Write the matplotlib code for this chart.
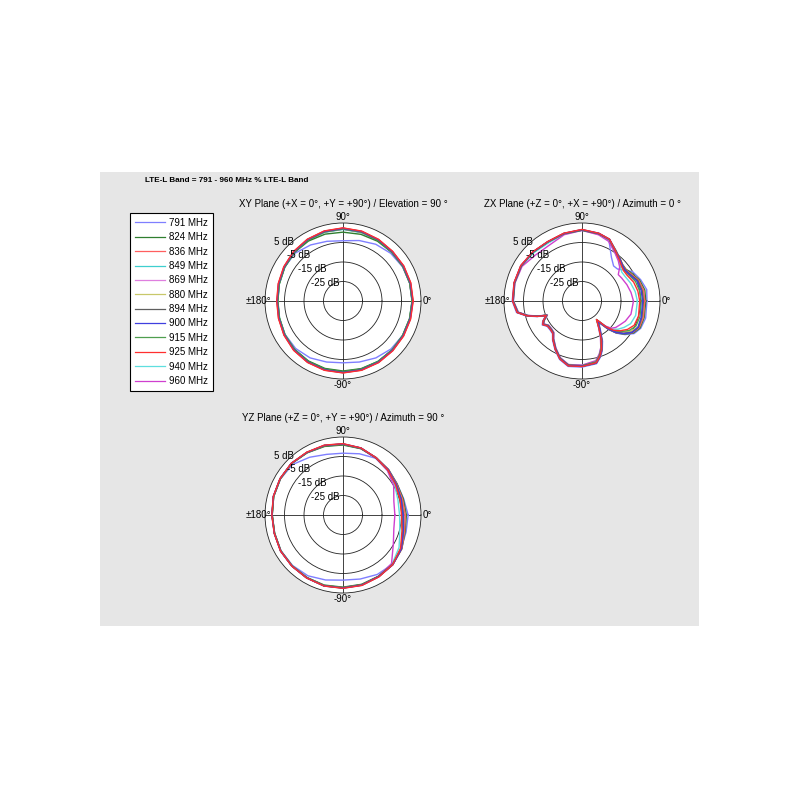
#!/usr/bin/env python

import numpy as np
import matplotlib
matplotlib.use("agg")
import matplotlib.pyplot as plt
from matplotlib.patches import Rectangle
from matplotlib.lines import Line2D

plt.rcParams["font.family"] = ["Liberation Sans", "DejaVu Sans"]

FREQS = [791, 824, 836, 849, 869, 880, 894, 900, 915, 925, 940, 960]
COLORS = ["#7f7fff", "#2f7f2f", "#ff5f5f", "#3fcfcf", "#df7fdf", "#c8c86a",
          "#5f5f5f", "#3f3fdf", "#4f9f4f", "#ff2f2f", "#5fdfdf", "#cf3fcf"]
# dark traces sit on top in the original export
ZORDERS = [2, 2.5, 2.5, 2, 2, 2, 3, 3, 2.5, 3, 2, 2]

RINGS = [5, -5, -15, -25]

# XY plane, elevation = 90 deg (gain in dB)
xy_ang = [0, 15, 30, 45, 60, 75, 90, 105, 120, 135, 150, 165,
          180, 195, 210, 225, 240, 255, 270, 285, 300, 315, 330, 345]
xy_db = [
    [0.6, 0.5, 0.2, -0.4, -1.4, -2.9, -4.1, -3.3, -1.8, -0.3, -0.4, -1.0, -1.4, -1.2, -0.7, -0.6, -1.3, -2.6, -3.3, -2.6, -1.3, -0.2, 0.3, 0.5],  # 791
    [0.5, 0.5, 0.5, 0.3, 0.4, 0.4, 0.3, 0.5, 0.5, 0.2, -0.4, -1.1, -1.5, -1.2, -0.5, 0.1, 0.5, 0.8, 0.9, 0.9, 0.8, 0.6, 0.4, 0.4],  # 824
    [0.9, 0.9, 0.9, 0.9, 1.4, 2.0, 2.4, 2.1, 1.5, 0.8, 0.0, -0.7, -1.1, -0.8, -0.1, 0.7, 1.3, 1.7, 1.8, 1.7, 1.4, 1.0, 0.8, 0.8],  # 836
    [0.4, 0.4, 0.4, 0.4, 0.8, 1.3, 1.7, 1.5, 0.9, 0.3, -0.5, -1.2, -1.6, -1.3, -0.6, 0.2, 0.7, 1.1, 1.2, 1.1, 0.8, 0.5, 0.3, 0.3],  # 849
    [0.6, 0.6, 0.6, 0.6, 1.1, 1.7, 2.1, 1.8, 1.2, 0.5, -0.3, -1.0, -1.4, -1.1, -0.4, 0.4, 1.0, 1.4, 1.5, 1.4, 1.1, 0.7, 0.5, 0.5],  # 869
    [0.5, 0.5, 0.5, 0.5, 1.0, 1.6, 2.0, 1.7, 1.1, 0.4, -0.4, -1.1, -1.5, -1.2, -0.5, 0.3, 0.9, 1.3, 1.4, 1.3, 1.0, 0.6, 0.4, 0.4],  # 880
    [0.7, 0.7, 0.7, 0.7, 1.2, 1.8, 2.2, 1.9, 1.3, 0.6, -0.2, -0.9, -1.3, -1.0, -0.3, 0.5, 1.1, 1.5, 1.6, 1.5, 1.2, 0.8, 0.6, 0.6],  # 894
    [0.8, 0.8, 0.8, 0.8, 1.3, 1.9, 2.3, 2.0, 1.4, 0.7, -0.1, -0.8, -1.2, -0.9, -0.2, 0.6, 1.2, 1.6, 1.7, 1.6, 1.3, 0.9, 0.7, 0.7],  # 900
    [0.4, 0.4, 0.4, 0.4, 0.9, 1.5, 1.9, 1.6, 1.0, 0.3, -0.5, -1.2, -1.6, -1.3, -0.6, 0.2, 0.8, 1.2, 1.3, 1.2, 0.9, 0.5, 0.3, 0.3],  # 915
    [1.0, 1.0, 1.0, 1.0, 1.5, 2.1, 2.5, 2.2, 1.6, 0.9, 0.1, -0.6, -1.0, -0.7, 0.0, 0.8, 1.4, 1.8, 1.9, 1.8, 1.5, 1.1, 0.9, 0.9],  # 925
    [0.5, 0.6, 0.6, 0.5, 1.0, 1.6, 2.0, 1.7, 1.1, 0.4, -0.4, -1.1, -1.4, -1.1, -0.5, 0.3, 0.9, 1.3, 1.4, 1.3, 1.0, 0.6, 0.4, 0.5],  # 940
    [0.5, 0.4, 0.4, 0.4, 0.9, 1.5, 1.9, 1.7, 1.1, 0.4, -0.3, -1.0, -1.4, -1.1, -0.4, 0.3, 0.8, 1.2, 1.3, 1.2, 1.0, 0.6, 0.4, 0.4],  # 960
]

# ZX plane, azimuth = 0 deg
zx_ang = [0, 10, 20, 30, 36, 42, 48, 56, 66, 76,
          90, 105, 120, 135, 150, 165, 180,
          190, 195, 199, 202, 207, 211, 216, 222, 228, 233, 241, 249, 258, 270,
          283, 288, 292, 297, 302,
          308, 313, 317, 322, 328, 335, 345]
zx_db = [
    [-1.7, -1.3, -3.0, -5.0, -8.0, -10.5, -10.8, -8.0, -1.0, 0.3,
     1.2, 0.6, 0.0, 0.6, 1.2, 1.1, 0.8,
     -0.9, -5.4, -10.4, -14.9, -12.4, -11.2, -12.9, -12.9, -12.4, -9.9, -6.4, -2.9, -0.7, -1.1,
     -2.0, -4.6, -7.3, -11.8, -17.0,
     -21.0, -15.0, -10.8, -7.0, -3.5, -1.8, -1.2],  # 791
    [-2.3, -2.3, -3.6, -6.0, -7.2, -7.0, -5.8, -3.8, -0.4, 0.6,
     1.3, 0.8, 0.1, 0.5, 1.0, 0.9, 0.4,
     -1.3, -5.8, -10.8, -15.3, -12.8, -11.6, -13.3, -13.3, -12.8, -10.3, -6.8, -3.3, -1.1, -1.5,
     -2.3, -5.0, -7.8, -12.4, -17.5,
     -21.5, -15.3, -11.0, -7.4, -4.0, -2.2, -2.0],  # 824
    [-2.8, -2.9, -4.0, -6.5, -7.5, -7.1, -5.9, -4.0, -0.4, 0.7,
     1.6, 0.9, 0.1, 0.6, 1.2, 1.0, 0.5,
     -1.4, -5.9, -10.9, -15.4, -12.9, -11.7, -13.4, -13.4, -12.9, -10.4, -6.9, -3.4, -1.2, -1.6,
     -2.4, -5.1, -7.9, -12.6, -17.8,
     -22.0, -15.6, -11.3, -7.8, -4.4, -2.6, -2.4],  # 836
    [-3.1, -3.3, -4.3, -7.0, -8.0, -7.6, -6.3, -4.3, -0.6, 0.5,
     1.4, 0.7, -0.1, 0.4, 1.0, 0.8, 0.3,
     -1.6, -6.1, -11.1, -15.6, -13.1, -11.9, -13.6, -13.6, -13.1, -10.6, -7.1, -3.6, -1.4, -1.8,
     -2.6, -5.3, -8.2, -12.9, -18.0,
     -22.3, -16.0, -11.7, -8.3, -5.0, -2.9, -2.8],  # 849
    [-3.3, -3.5, -4.6, -7.4, -8.3, -8.0, -6.6, -4.6, -0.8, 0.4,
     1.4, 0.6, -0.4, 0.2, 0.9, 0.8, 0.3,
     -1.7, -6.2, -11.2, -15.7, -13.2, -12.0, -13.7, -13.7, -13.2, -10.7, -7.2, -3.7, -1.5, -1.9,
     -2.8, -5.6, -8.5, -13.2, -18.2,
     -22.5, -16.0, -12.0, -8.8, -5.5, -3.1, -3.0],  # 869
    [-3.4, -3.6, -4.8, -7.6, -8.5, -8.2, -6.8, -4.7, -0.8, 0.4,
     1.4, 0.7, -0.1, 0.4, 1.0, 0.8, 0.3,
     -1.6, -6.1, -11.1, -15.6, -13.1, -11.9, -13.6, -13.6, -13.1, -10.6, -7.1, -3.6, -1.4, -1.8,
     -2.8, -5.6, -8.5, -13.3, -18.3,
     -22.5, -16.2, -12.2, -9.0, -5.8, -3.3, -3.1],  # 880
    [-3.5, -3.7, -4.5, -7.0, -7.8, -7.2, -6.0, -4.2, -0.5, 0.6,
     1.5, 0.8, 0.0, 0.5, 1.1, 0.9, 0.4,
     -1.5, -6.0, -11.0, -15.5, -13.0, -11.8, -13.5, -13.5, -13.0, -10.5, -7.0, -3.5, -1.3, -1.7,
     -2.6, -5.4, -8.3, -13.0, -18.0,
     -22.5, -16.0, -11.6, -8.0, -4.8, -3.0, -3.2],  # 894
    [-3.9, -4.2, -5.0, -7.2, -7.9, -7.3, -6.0, -4.1, -0.3, 0.8,
     1.6, 0.9, 0.1, 0.6, 1.2, 1.0, 0.5,
     -1.3, -5.8, -10.8, -15.3, -12.8, -11.6, -13.3, -13.3, -12.8, -10.3, -6.8, -3.3, -1.1, -1.5,
     -2.3, -5.1, -8.0, -12.7, -17.6,
     -22.0, -15.8, -11.4, -7.8, -4.6, -3.3, -3.5],  # 900
    [-4.6, -5.0, -5.8, -7.6, -8.2, -7.6, -6.3, -4.3, -0.5, 0.6,
     1.4, 0.7, -0.1, 0.4, 1.0, 0.8, 0.3,
     -1.6, -6.1, -11.1, -15.6, -13.1, -11.9, -13.6, -13.6, -13.1, -10.6, -7.1, -3.6, -1.4, -1.8,
     -3.0, -5.9, -8.8, -13.6, -18.4,
     -22.8, -16.5, -12.5, -9.5, -6.5, -4.5, -4.2],  # 915
    [-5.4, -5.9, -6.8, -8.4, -8.6, -7.8, -6.4, -4.2, -0.3, 0.8,
     1.7, 1.0, 0.2, 0.7, 1.3, 1.1, 0.6,
     -1.2, -5.7, -10.7, -15.2, -12.7, -11.5, -13.2, -13.2, -12.7, -10.2, -6.7, -3.2, -1.0, -1.4,
     -2.5, -5.3, -8.4, -13.4, -18.6,
     -23.0, -16.8, -13.0, -10.2, -7.5, -5.5, -5.0],  # 925
    [-6.6, -7.3, -8.4, -9.6, -9.8, -8.6, -6.9, -4.6, -0.8, 0.4,
     1.3, 0.5, -0.6, 0.0, 0.8, 0.7, 0.2,
     -1.8, -6.3, -11.3, -15.8, -13.3, -12.1, -13.8, -13.8, -13.3, -10.8, -7.3, -3.8, -1.6, -2.0,
     -3.3, -6.2, -9.1, -13.9, -18.8,
     -23.0, -17.2, -13.8, -11.5, -9.5, -7.5, -6.5],  # 940
    [-8.6, -9.5, -10.5, -11.5, -12.0, -9.0, -7.2, -5.0, -1.5, 0.0,
     1.2, 0.2, -1.8, -1.5, 0.5, 0.6, 0.2,
     -1.9, -6.4, -11.4, -15.9, -13.4, -12.2, -13.9, -13.9, -13.4, -10.9, -7.4, -3.9, -1.7, -2.1,
     -3.6, -6.4, -9.3, -14.2, -19.0,
     -22.5, -17.5, -14.5, -13.0, -12.0, -10.5, -9.0],  # 960
]

# YZ plane, azimuth = 90 deg
yz_ang = xy_ang
yz_db = [
    [-1.6, -2.8, -3.0, -2.0, -1.4, -2.5, -3.3, -2.8, -0.8, 1.6, 2.0, 1.8, 1.3, 1.3, 1.7, 1.6, 1.0, -0.5, -1.6, -1.0, 0.2, 0.8, -0.5, -1.5],  # 791
    [-2.5, -3.0, -3.0, -2.0, -1.0, 0.2, 0.9, 1.4, 1.8, 2.3, 2.1, 1.8, 1.3, 1.3, 1.8, 1.9, 2.0, 2.2, 2.0, 1.8, 1.3, 1.0, -0.2, -2.0],  # 824
    [-3.0, -3.4, -3.2, -2.1, -1.0, 0.5, 1.3, 1.8, 2.0, 2.4, 2.2, 1.9, 1.4, 1.4, 1.9, 2.0, 2.2, 2.5, 2.3, 2.1, 1.5, 1.1, -0.2, -2.3],  # 836
    [-3.3, -3.6, -3.3, -2.2, -1.1, 0.4, 1.1, 1.6, 1.9, 2.3, 2.1, 1.8, 1.3, 1.3, 1.8, 1.9, 2.1, 2.4, 2.2, 2.0, 1.4, 1.0, -0.3, -2.5],  # 849
    [-3.6, -3.8, -3.4, -2.2, -1.1, 0.5, 1.3, 1.8, 2.0, 2.4, 2.2, 1.9, 1.4, 1.4, 1.9, 2.0, 2.2, 2.5, 2.3, 2.1, 1.5, 1.0, -0.4, -2.7],  # 869
    [-3.8, -3.9, -3.5, -2.3, -1.2, 0.4, 1.3, 1.8, 2.0, 2.3, 2.1, 1.8, 1.3, 1.3, 1.8, 1.9, 2.1, 2.5, 2.3, 2.1, 1.4, 0.9, -0.5, -2.8],  # 880
    [-4.0, -4.0, -3.5, -2.3, -1.2, 0.5, 1.4, 1.9, 2.0, 2.4, 2.2, 1.9, 1.4, 1.4, 1.9, 2.0, 2.2, 2.6, 2.4, 2.2, 1.5, 1.0, -0.4, -2.9],  # 894
    [-4.2, -4.1, -3.5, -2.2, -1.1, 0.6, 1.5, 2.0, 2.1, 2.5, 2.3, 2.0, 1.5, 1.5, 2.0, 2.1, 2.3, 2.7, 2.5, 2.3, 1.6, 1.1, -0.4, -3.0],  # 900
    [-4.6, -4.4, -3.7, -2.4, -1.2, 0.5, 1.4, 1.9, 2.0, 2.4, 2.2, 1.9, 1.4, 1.4, 1.9, 2.0, 2.2, 2.6, 2.4, 2.2, 1.5, 0.9, -0.7, -3.3],  # 915
    [-5.0, -4.7, -3.9, -2.4, -1.1, 0.6, 1.6, 2.1, 2.2, 2.5, 2.3, 2.0, 1.5, 1.5, 2.0, 2.1, 2.3, 2.7, 2.6, 2.4, 1.7, 1.0, -0.9, -3.7],  # 925
    [-6.0, -5.8, -4.4, -2.6, -1.3, 0.4, 1.3, 1.8, 2.0, 2.4, 2.2, 1.9, 1.4, 1.4, 1.9, 2.0, 2.2, 2.5, 2.3, 2.1, 1.4, 0.6, -1.8, -4.8],  # 940
    [-8.4, -8.0, -5.0, -2.8, -1.4, 0.3, 1.2, 1.8, 2.0, 2.4, 2.2, 1.9, 1.4, 1.4, 1.9, 2.0, 2.2, 2.5, 2.3, 2.0, 1.3, 0.2, -5.2, -8.0],  # 960
]


def px(x, y, w=0, h=0):
    "Pixel box (top-left origin) to figure fraction"
    return [x / 800.0, 1.0 - (y + h) / 800.0, w / 800.0, h / 800.0]


def polar_panel(fig, cx, cy, title, ang, rows):
    rad = 78
    ax = fig.add_axes(px(cx - rad, cy - rad, 2 * rad, 2 * rad), projection="polar")
    ax.set_facecolor("white")
    ax.set_theta_zero_location("E")
    ax.set_rlim(-35, 5)
    ax.set_rticks([-25, -15, -5])
    ax.set_yticklabels([])
    ax.set_xticks(np.deg2rad([0, 90, 180, 270]))
    ax.set_xticklabels([])
    ax.grid(True, color="#222222", linewidth=0.6, linestyle="-")
    ax.spines["polar"].set_linewidth(0.6)
    ax.spines["polar"].set_color("#222222")
    ax.tick_params(length=0)

    theta = np.deg2rad(ang + [ang[0]])
    for db, color, z in zip(rows, COLORS, ZORDERS):
        ax.plot(theta, db + [db[0]], color=color, linewidth=1.0, zorder=z)

    for r in RINGS:
        ax.annotate("{} dB".format(r), xy=(np.deg2rad(135), r),
                    xytext=(-2.5, -0.5), textcoords="offset points",
                    ha="center", va="bottom", fontsize=7, zorder=5)

    for a, lab in [(90, "90°"), (0, "0°"), (180, "±180°"), (270, "-90°")]:
        ax.text(np.deg2rad(a), 8.3, lab, ha="center", va="center", fontsize=7)

    fig.text(cx / 800.0, 1.0 - (cy - 97) / 800.0, title,
             ha="center", va="center", fontsize=7)
    return ax


fig = plt.figure(figsize=(8, 8), dpi=100)
fig.patches.append(Rectangle((100 / 800.0, 1 - 626 / 800.0), 599 / 800.0, 454 / 800.0,
                             transform=fig.transFigure, facecolor="#e6e6e6",
                             edgecolor="none", zorder=-1))

fig.text(145 / 800.0, 1 - 181 / 800.0, "LTE-L Band = 791 - 960 MHz % LTE-L Band",
         ha="left", va="center", fontsize=5.9, fontweight="bold")

polar_panel(fig, 343, 301, "XY Plane (+X = 0°, +Y = +90°) / Elevation = 90 °", xy_ang, xy_db)
polar_panel(fig, 582, 301, "ZX Plane (+Z = 0°, +X = +90°) / Azimuth = 0 °", zx_ang, zx_db)
polar_panel(fig, 343, 515, "YZ Plane (+Z = 0°, +Y = +90°) / Azimuth = 90 °", yz_ang, yz_db)

handles = [Line2D([], [], color=c, linewidth=0.9) for c in COLORS]
labels = ["{} MHz".format(f) for f in FREQS]
leg = fig.legend(handles, labels, loc="upper left",
                 bbox_to_anchor=(130 / 800.0, 1 - 213 / 800.0),
                 fontsize=7, frameon=True, fancybox=False, framealpha=1,
                 edgecolor="black", handlelength=3.1, handletextpad=0.4,
                 labelspacing=0.45, borderpad=0.5, borderaxespad=0)
leg.get_frame().set_linewidth(0.8)

fig.savefig("out.png", dpi=100)
plt.close(fig)
